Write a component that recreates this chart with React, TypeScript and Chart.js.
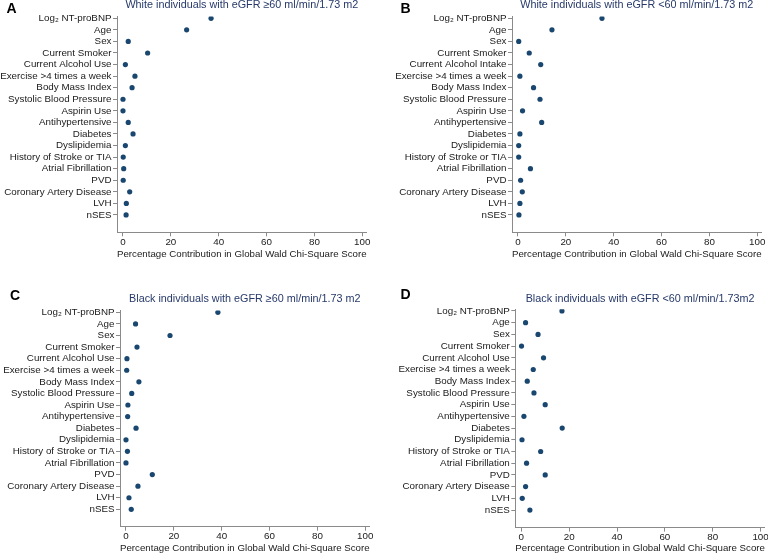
import React, { useEffect, useRef } from "react";
import { Chart, registerables } from "chart.js";

Chart.register(...registerables);

// ---------- data ----------
const catsA = [
  "Log₂ NT-proBNP", "Age", "Sex", "Current Smoker", "Current Alcohol Use",
  "Exercise >4 times a week", "Body Mass Index", "Systolic Blood Pressure",
  "Aspirin Use", "Antihypertensive", "Diabetes", "Dyslipidemia",
  "History of Stroke or TIA", "Atrial Fibrillation", "PVD",
  "Coronary Artery Disease", "LVH", "nSES",
];
const catsB = [
  "Log₂ NT-proBNP", "Age", "Sex", "Current Smoker", "Current Alcohol Intake",
  "Exercise >4 times a week", "Body Mass Index", "Systolic Blood Pressure",
  "Aspirin Use", "Antihypertensive", "Diabetes", "Dyslipidemia",
  "History of Stroke or TIA", "Atrial Fibrillation", "PVD",
  "Coronary Artery Disease", "LVH", "nSES",
];
const catsC = catsA;
const catsD = catsA;

const valuesA = [36.8, 26.6, 2.2, 10.3, 1.0, 5.0, 3.8, 0.0, 0.0, 2.2, 4.2, 1.0, 0.1, 0.3, 0.1, 2.8, 1.4, 1.3];
const valuesB = [35.1, 14.2, 0.3, 4.7, 9.5, 0.8, 6.5, 9.2, 1.9, 9.9, 0.8, 0.3, 0.3, 5.2, 1.1, 1.8, 0.8, 0.4];
const valuesC = [38.4, 4.0, 18.4, 4.6, 0.4, 0.3, 5.4, 2.4, 0.8, 0.7, 4.2, 0.0, 0.6, 0.0, 11.0, 5.0, 1.25, 2.2];
const valuesD = [17.0, 1.8, 7.0, 0.1, 9.3, 5.0, 2.5, 5.3, 10.0, 1.1, 17.1, 0.3, 8.1, 2.2, 10.0, 1.8, 0.4, 3.6];

const titleA = "White individuals with eGFR ≥60 ml/min/1.73 m2";
const titleB = "White individuals with eGFR <60 ml/min/1.73 m2";
const titleC = "Black individuals with eGFR ≥60 ml/min/1.73 m2";
const titleD = "Black individuals with eGFR <60 ml/min/1.73m2";

const xTicks = [0, 20, 40, 60, 80, 100];
const xTitle = "Percentage Contribution in Global Wald Chi-Square Score";

// ---------- style ----------
const FONT = '"Liberation Sans", Arial, Helvetica, sans-serif';
const DOT = "#1a476f";
const TITLE_COLOR = "#26396a";
const TEXT = "#1a1a1a";
const AXIS = "#8a8a8a";
const CW = 384;
const CH = 260;

type Cfg = {
  cats: string[];
  values: number[];
  title: string;
  left: number;
  rightPad: number;
  top: number;
  bottom: number;
  x: number;
  y: number;
};

function Panel({ cfg }: { cfg: Cfg }) {
  const ref = useRef<HTMLCanvasElement>(null);
  useEffect(() => {
    const c = cfg;
    const tickFont = { family: FONT, size: 9.8 };
    const chart = new Chart(ref.current as HTMLCanvasElement, {
      type: "scatter",
      data: {
        datasets: [
          {
            data: c.values.map((v, i) => ({ x: v, y: i })),
            backgroundColor: DOT,
            borderWidth: 0,
            pointRadius: 2.6,
            pointHoverRadius: 2.6,
          },
        ],
      },
      options: {
        responsive: false,
        animation: false,
        devicePixelRatio: 1,
        layout: { padding: { left: 0, right: c.rightPad, top: 0, bottom: 0 } },
        plugins: {
          legend: { display: false },
          tooltip: { enabled: false },
          title: {
            display: true,
            text: c.title,
            fullSize: false,
            color: TITLE_COLOR,
            font: { family: FONT, size: 10.8, weight: "normal", lineHeight: 1 },
            padding: { top: 0, bottom: c.top - 10.8 },
          },
        },
        scales: {
          x: {
            type: "linear",
            min: -2.5,
            max: 101.8,
            afterBuildTicks: (s: any) => {
              s.ticks = xTicks.map((v) => ({ value: v }));
            },
            afterFit: (s: any) => {
              s.height = CH - c.bottom;
              s.paddingLeft = 0;
              s.paddingRight = 0;
            },
            grid: { display: true, drawOnChartArea: false, drawTicks: true, tickLength: 4, color: AXIS },
            border: { display: true, color: AXIS, width: 1 },
            ticks: { padding: 0, color: TEXT, font: tickFont, maxRotation: 0, autoSkip: false },
            title: {
              display: true,
              text: xTitle,
              color: TEXT,
              font: tickFont,
              padding: { top: 0, bottom: 0 },
            },
          },
          y: {
            type: "linear",
            reverse: true,
            min: -0.15,
            max: 18.5,
            afterBuildTicks: (s: any) => {
              s.ticks = c.cats.map((_, i) => ({ value: i }));
            },
            afterFit: (s: any) => {
              s.width = c.left;
              s.paddingTop = 0;
              s.paddingBottom = 0;
            },
            grid: { display: true, drawOnChartArea: false, drawTicks: true, tickLength: 4, color: AXIS },
            border: { display: true, color: AXIS, width: 1 },
            ticks: {
              padding: 1.5,
              color: TEXT,
              font: tickFont,
              autoSkip: false,
              callback: (v: any) => c.cats[Math.round(Number(v))] ?? "",
            },
          },
        },
      } as any,
    });
    return () => chart.destroy();
  }, [cfg]);
  return (
    <canvas
      ref={ref}
      width={CW}
      height={CH}
      style={{ position: "absolute", left: cfg.x, top: cfg.y, width: CW, height: CH }}
    />
  );
}

const panels: Cfg[] = [
  { cats: catsA, values: valuesA, title: titleA, left: 117, rightPad: 17.4, top: 16.56, bottom: 232.3, x: 0, y: 0 },
  { cats: catsB, values: valuesB, title: titleB, left: 128, rightPad: 6.4, top: 16.56, bottom: 232.3, x: 384, y: 0 },
  { cats: catsC, values: valuesC, title: titleC, left: 120, rightPad: 14.4, top: 16.56, bottom: 232.7, x: 0, y: 294 },
  { cats: catsD, values: valuesD, title: titleD, left: 131.3, rightPad: 3.1, top: 15.2, bottom: 233.6, x: 384, y: 294 },
];

const letters = [
  { t: "A", x: 6.5, y: 1.4 },
  { t: "B", x: 400.5, y: 0.8 },
  { t: "C", x: 10, y: 288.2 },
  { t: "D", x: 400.5, y: 287.2 },
];

export default function App() {
  return (
    <div
      style={{
        position: "absolute",
        left: 0,
        top: 0,
        width: 768,
        height: 554,
        overflow: "hidden",
        background: "#fff",
      }}
    >
      {panels.map((p, i) => (
        <Panel key={i} cfg={p} />
      ))}
      {letters.map((l) => (
        <div
          key={l.t}
          style={{
            position: "absolute",
            left: l.x,
            top: l.y,
            fontFamily: FONT,
            fontWeight: 700,
            fontSize: 14,
            lineHeight: "14px",
            color: "#000",
          }}
        >
          {l.t}
        </div>
      ))}
    </div>
  );
}
